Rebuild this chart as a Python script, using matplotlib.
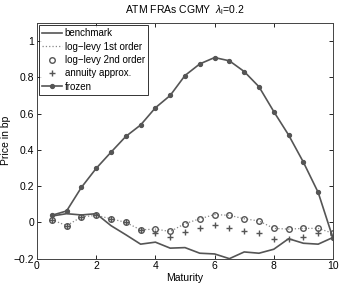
import matplotlib
matplotlib.use("Agg")
import matplotlib.pyplot as plt
import numpy as np

plt.rcParams["font.family"] = ["Liberation Sans", "DejaVu Sans"]
plt.rcParams["mathtext.fontset"] = "custom"
plt.rcParams["mathtext.rm"] = "Liberation Sans"
plt.rcParams["mathtext.it"] = "Liberation Sans:italic"

maturity = [0.5, 1, 1.5, 2, 2.5, 3, 3.5, 4, 4.5, 5, 5.5, 6, 6.5, 7, 7.5, 8, 8.5, 9, 9.5, 10]
benchmark = [0.035, 0.048, 0.041, 0.048, -0.018, -0.068, -0.120, -0.109, -0.142, -0.139,
             -0.170, -0.174, -0.200, -0.163, -0.170, -0.148, -0.090, -0.115, -0.120, -0.083]
loglevy1 = [0.015, -0.018, 0.030, 0.039, 0.020, 0.000, -0.041, -0.037, -0.050, -0.007,
            0.020, 0.043, 0.039, 0.020, 0.008, -0.033, -0.037, -0.033, -0.033, -0.060]
loglevy2 = [0.015, -0.018, 0.030, 0.039, 0.020, 0.000, -0.041, -0.037, -0.050, -0.007,
            0.020, 0.043, 0.039, 0.020, 0.008, -0.033, -0.037, -0.033, -0.033, -0.060]
annuity = [0.015, -0.018, 0.030, 0.039, 0.020, 0.000, -0.041, -0.059, -0.078, -0.054,
           -0.031, -0.017, -0.033, -0.050, -0.059, -0.092, -0.090, -0.078, -0.056, -0.068]
frozen = [0.039, 0.063, 0.193, 0.298, 0.387, 0.474, 0.537, 0.632, 0.700, 0.810,
          0.874, 0.909, 0.891, 0.832, 0.748, 0.611, 0.482, 0.332, 0.165, -0.087]

col = "#555555"
fig = plt.figure(figsize=(3.41, 2.83), dpi=100)
ax = fig.add_axes([0.1085, 0.086, 0.868, 0.833])

ax.plot(maturity, benchmark, "-", color=col, lw=1.2, label="benchmark")
ax.plot(maturity, loglevy1, ":", color="#888888", lw=0.9, label="log\u2212levy 1st order")
ax.plot(maturity, loglevy2, "o", color=col, mfc="none", mec=col, ms=4, mew=1.0,
        label="log\u2212levy 2nd order")
ax.plot(maturity, annuity, "+", color=col, ms=4, mew=1.0, label="annuity approx.")
ax.plot(maturity, frozen, "-o", color=col, lw=1.2, ms=2.8, mfc=col, mec=col,
        label="frozen")

ax.set_xlim(0, 10)
ax.set_ylim(-0.2, 1.1)
ax.set_xticks([0, 2, 4, 6, 8, 10])
ax.set_yticks([-0.2, 0, 0.2, 0.4, 0.6, 0.8, 1])
ax.set_yticklabels(["\u22120.2", "0", "0.2", "0.4", "0.6", "0.8", "1"])
ax.tick_params(direction="in", top=True, right=True, labelsize=7.5, length=3, width=0.6, pad=2)
for s in ax.spines.values():
    s.set_linewidth(0.7)
    s.set_color("#444444")
ax.set_xlabel("Maturity", fontsize=7.5, labelpad=1)
ax.set_ylabel("Price in bp", fontsize=7.5, labelpad=2)
ax.set_title("ATM FRAs CGMY  $\\lambda_\\mathrm{l}$=0.2", fontsize=7.5, pad=7)

leg = ax.legend(loc="upper left", fontsize=7, frameon=True, fancybox=False,
                borderaxespad=0.25, handlelength=2.0, handletextpad=0.3,
                borderpad=0.3, labelspacing=0.35)
leg.get_frame().set_edgecolor("black")
leg.get_frame().set_linewidth(0.7)

fig.savefig("out.png", dpi=100)
